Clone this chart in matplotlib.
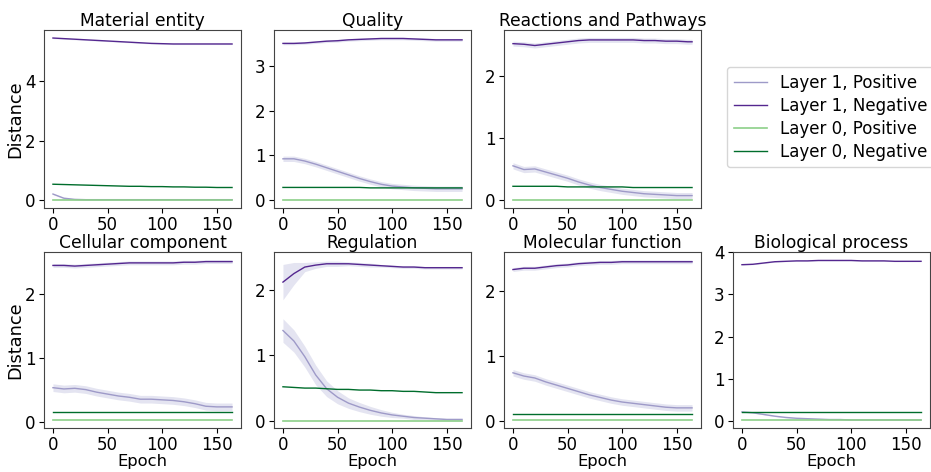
import matplotlib
matplotlib.use("Agg")
import matplotlib.pyplot as plt
import numpy as np

epochs = [0, 10, 20, 30, 40, 50, 60, 70, 80, 90, 100, 110, 120, 130, 140, 150, 160, 164]

titles = ["Material entity", "Quality", "Reactions and Pathways",
          "Cellular component", "Regulation", "Molecular function", "Biological process"]

series_labels = ["Layer 1, Positive", "Layer 1, Negative", "Layer 0, Positive", "Layer 0, Negative"]

# Material entity
me_l1p = [0.20, 0.06, 0.02, 0.01, 0.01, 0.01, 0.01, 0.01, 0.01, 0.01, 0.01, 0.01, 0.01, 0.01, 0.01, 0.01, 0.01, 0.01]
me_l1n = [5.45, 5.43, 5.41, 5.39, 5.37, 5.35, 5.33, 5.31, 5.29, 5.27, 5.26, 5.25, 5.25, 5.25, 5.25, 5.25, 5.25, 5.25]
me_l0p = [0.0] * 18
me_l0n = [0.53, 0.52, 0.51, 0.50, 0.49, 0.48, 0.47, 0.46, 0.46, 0.45, 0.45, 0.44, 0.44, 0.43, 0.43, 0.42, 0.42, 0.42]

# Quality
qu_l1p = [0.92, 0.92, 0.87, 0.80, 0.72, 0.64, 0.56, 0.48, 0.41, 0.35, 0.31, 0.29, 0.27, 0.26, 0.25, 0.25, 0.25, 0.25]
qu_l1n = [3.50, 3.50, 3.51, 3.53, 3.55, 3.56, 3.58, 3.59, 3.60, 3.61, 3.61, 3.61, 3.60, 3.59, 3.58, 3.58, 3.58, 3.58]
qu_l0p = [0.0] * 18
qu_l0n = [0.28, 0.28, 0.28, 0.28, 0.28, 0.28, 0.28, 0.28, 0.27, 0.27, 0.27, 0.27, 0.27, 0.27, 0.27, 0.27, 0.27, 0.27]

# Reactions and Pathways
rp_l1p = [0.55, 0.49, 0.50, 0.45, 0.40, 0.35, 0.29, 0.24, 0.20, 0.17, 0.14, 0.12, 0.10, 0.09, 0.08, 0.07, 0.07, 0.07]
rp_l1n = [2.52, 2.51, 2.49, 2.51, 2.53, 2.55, 2.57, 2.58, 2.58, 2.58, 2.58, 2.58, 2.57, 2.57, 2.56, 2.56, 2.55, 2.55]
rp_l0p = [0.0] * 18
rp_l0n = [0.22, 0.22, 0.22, 0.22, 0.22, 0.21, 0.21, 0.21, 0.21, 0.21, 0.21, 0.20, 0.20, 0.20, 0.20, 0.20, 0.20, 0.20]

# Cellular component
cc_l1p = [0.53, 0.51, 0.52, 0.50, 0.46, 0.43, 0.40, 0.38, 0.35, 0.35, 0.34, 0.33, 0.31, 0.28, 0.24, 0.23, 0.23, 0.23]
cc_l1n = [2.44, 2.44, 2.43, 2.44, 2.45, 2.46, 2.47, 2.48, 2.48, 2.48, 2.48, 2.48, 2.49, 2.49, 2.50, 2.50, 2.50, 2.50]
cc_l0p = [0.02] * 18
cc_l0n = [0.15] * 18

# Regulation
rg_l1p = [1.38, 1.22, 0.98, 0.70, 0.49, 0.36, 0.27, 0.21, 0.16, 0.12, 0.09, 0.07, 0.05, 0.04, 0.03, 0.02, 0.02, 0.02]
rg_l1n = [2.12, 2.25, 2.35, 2.38, 2.40, 2.40, 2.40, 2.39, 2.38, 2.37, 2.36, 2.35, 2.35, 2.34, 2.34, 2.34, 2.34, 2.34]
rg_l0p = [0.0] * 18
rg_l0n = [0.52, 0.51, 0.50, 0.50, 0.49, 0.48, 0.48, 0.47, 0.47, 0.46, 0.46, 0.45, 0.45, 0.44, 0.43, 0.43, 0.43, 0.43]

# Molecular function
mf_l1p = [0.74, 0.69, 0.66, 0.60, 0.55, 0.50, 0.45, 0.40, 0.36, 0.32, 0.29, 0.27, 0.25, 0.23, 0.21, 0.20, 0.20, 0.20]
mf_l1n = [2.33, 2.35, 2.35, 2.37, 2.39, 2.40, 2.42, 2.43, 2.44, 2.44, 2.45, 2.45, 2.45, 2.45, 2.45, 2.45, 2.45, 2.45]
mf_l0p = [0.01] * 18
mf_l0n = [0.10] * 18

# Biological process
bp_l1p = [0.22, 0.20, 0.16, 0.12, 0.09, 0.07, 0.06, 0.05, 0.04, 0.04, 0.03, 0.03, 0.03, 0.03, 0.03, 0.03, 0.03, 0.03]
bp_l1n = [3.70, 3.71, 3.74, 3.77, 3.78, 3.79, 3.79, 3.80, 3.80, 3.80, 3.80, 3.79, 3.79, 3.79, 3.78, 3.78, 3.78, 3.78]
bp_l0p = [0.02] * 18
bp_l0n = [0.22] * 18

# Std bands (Layer 1 positive / negative)
me_sd = [0.02, 0.02]
qu_sd = [0.06, 0.03]
rp_sd = [0.05, 0.04]
cc_sd = [0.06, 0.03]
rg_l1p_sd = [0.18, 0.17, 0.16, 0.15, 0.12, 0.10, 0.08, 0.07, 0.06, 0.05, 0.04, 0.03, 0.03, 0.02, 0.02, 0.02, 0.02, 0.02]
rg_l1n_sd = [0.27, 0.17, 0.07, 0.05, 0.04, 0.04, 0.03, 0.03, 0.03, 0.02, 0.02, 0.02, 0.02, 0.02, 0.02, 0.02, 0.02, 0.02]
mf_sd = [0.05, 0.03]
bp_sd = [0.01, 0.01]

panels = [
    (me_l1p, me_l1n, me_l0p, me_l0n, me_sd[0], me_sd[1], (-0.27, 5.72), [0, 2, 4]),
    (qu_l1p, qu_l1n, qu_l0p, qu_l0n, qu_sd[0], qu_sd[1], (-0.18, 3.8), [0, 1, 2, 3]),
    (rp_l1p, rp_l1n, rp_l0p, rp_l0n, rp_sd[0], rp_sd[1], (-0.13, 2.74), [0, 1, 2]),
    (cc_l1p, cc_l1n, cc_l0p, cc_l0n, cc_sd[0], cc_sd[1], (-0.1, 2.65), [0, 1, 2]),
    (rg_l1p, rg_l1n, rg_l0p, rg_l0n, rg_l1p_sd, rg_l1n_sd, (-0.11, 2.58), [0, 1, 2]),
    (mf_l1p, mf_l1n, mf_l0p, mf_l0n, mf_sd[0], mf_sd[1], (-0.11, 2.6), [0, 1, 2]),
    (bp_l1p, bp_l1n, bp_l0p, bp_l0n, bp_sd[0], bp_sd[1], (-0.16, 4.0), [0, 1, 2, 3, 4]),
]

c_l1p = "#9e9ac8"
c_l1n = "#54278f"
c_l0p = "#8ccf89"
c_l0n = "#006d2c"
band = "#bcbddc"

W, H = 931, 472
fig = plt.figure(figsize=(W / 100, H / 100), dpi=100)

lefts = [44, 274, 504, 44, 274, 504, 733]
tops = [30, 30, 30, 252, 252, 252, 252]
heights = [178, 178, 178, 176, 176, 176, 176]
aw = 197

x = np.array(epochs)
handles = None
for i, (p1, n1, p0, n0, sd1, sd2, ylim, yt) in enumerate(panels):
    ah = heights[i]
    ax = fig.add_axes([lefts[i] / W, 1 - (tops[i] + ah) / H, aw / W, ah / H])
    p1 = np.array(p1); n1 = np.array(n1)
    s1 = np.broadcast_to(np.array(sd1, dtype=float), p1.shape)
    s2 = np.broadcast_to(np.array(sd2, dtype=float), n1.shape)
    ax.fill_between(x, p1 - s1, p1 + s1, color=band, alpha=0.4, lw=0)
    ax.fill_between(x, n1 - s2, n1 + s2, color=band, alpha=0.4, lw=0)
    h1, = ax.plot(x, p1, color=c_l1p, lw=1.0, label=series_labels[0])
    h2, = ax.plot(x, n1, color=c_l1n, lw=1.0, label=series_labels[1])
    h3, = ax.plot(x, p0, color=c_l0p, lw=1.2, label=series_labels[2])
    h4, = ax.plot(x, n0, color=c_l0n, lw=1.0, label=series_labels[3])
    handles = [h1, h2, h3, h4]
    ax.set_ylim(*ylim)
    ax.set_yticks(yt)
    ax.set_xticks([0, 50, 100, 150])
    ax.tick_params(labelsize=12, pad=2.5)
    ax.set_title(titles[i], fontsize=12.3, pad=3)
    for s in ax.spines.values():
        s.set_color("#444444")
    if i in (0, 3):
        ax.set_ylabel("Distance", fontsize=12.8)
        ax.yaxis.set_label_coords(-0.10, 0.5)
    if i >= 3:
        ax.set_xlabel("Epoch", fontsize=11.8)
        ax.xaxis.set_label_coords(0.5, -0.145)

fig.legend(handles, series_labels, loc="upper left",
           bbox_to_anchor=(727 / W, 1 - 67 / H), fontsize=12, frameon=True,
           handlelength=2.0, borderpad=0.4, labelspacing=0.3, borderaxespad=0)

fig.savefig("out.png", dpi=100)
